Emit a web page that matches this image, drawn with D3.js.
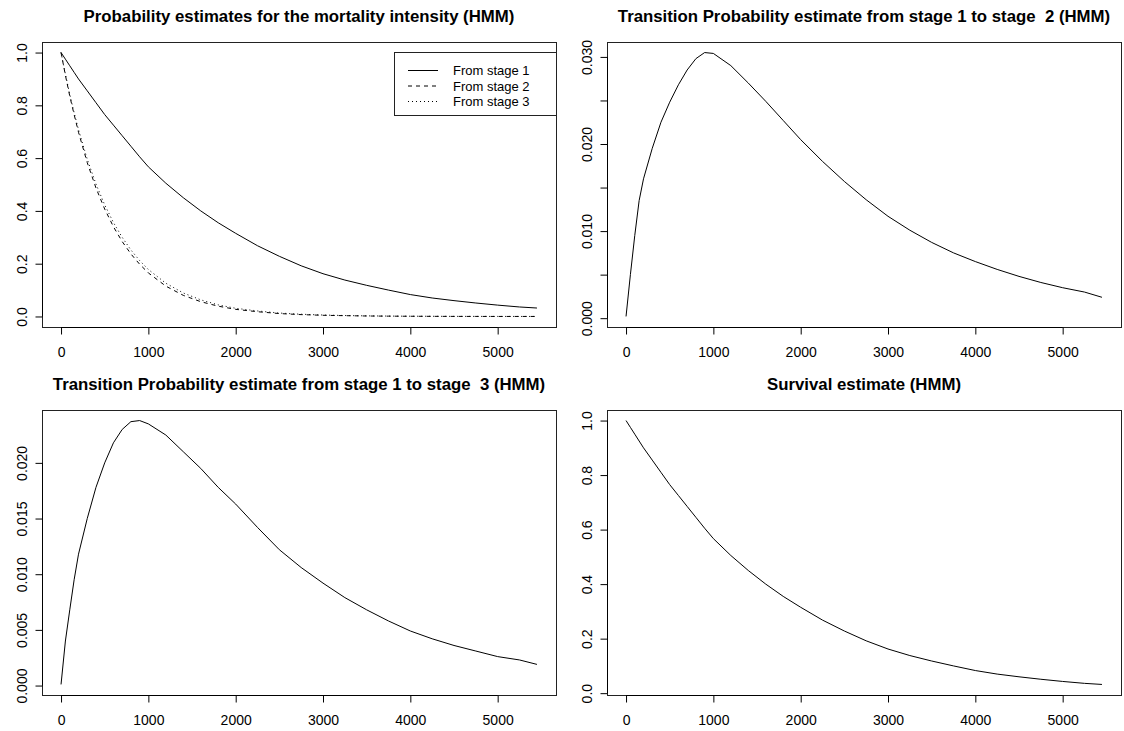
<!DOCTYPE html>
<html>
<head>
<meta charset="utf-8">
<script src="https://cdn.jsdelivr.net/npm/d3@7"></script>
<style>
  body { margin: 0; background: #fff; }
  text { font-family: "Liberation Sans", Arial, Helvetica, sans-serif; fill: #000; }
</style>
</head>
<body>
<div id="chart"></div>
<script>
// time points (days) shared by every curve
var days = [0, 50, 100, 150, 200, 300, 400, 500, 600, 700, 800, 900, 1000, 1200, 1400, 1600, 1800,
  2000, 2250, 2500, 2750, 3000, 3250, 3500, 3750, 4000, 4250, 4500, 4750, 5000, 5250, 5450];

// mortality intensity probabilities, by starting stage
var fromStage1 = [1.000, 0.975, 0.950, 0.925, 0.900, 0.855, 0.810, 0.765, 0.725, 0.685, 0.645, 0.605, 0.567,
  0.505, 0.450, 0.400, 0.355, 0.315, 0.268, 0.228, 0.192, 0.162, 0.138, 0.118, 0.100, 0.083, 0.070, 0.060,
  0.051, 0.043, 0.036, 0.032];
var fromStage2 = [1.000, 0.914, 0.835, 0.765, 0.698, 0.583, 0.487, 0.407, 0.340, 0.284, 0.237, 0.198, 0.165,
  0.115, 0.080, 0.056, 0.039, 0.027, 0.018, 0.011, 0.007, 0.0045, 0.003, 0.0018, 0.0012, 0.0008, 0.0005,
  0.0003, 0.0002, 0.0001, 0.0001, 0.0001];
var fromStage3 = [1.000, 0.918, 0.842, 0.772, 0.708, 0.596, 0.502, 0.423, 0.356, 0.300, 0.252, 0.212, 0.178,
  0.126, 0.089, 0.063, 0.044, 0.031, 0.021, 0.013, 0.0085, 0.0055, 0.0036, 0.0023, 0.0015, 0.001, 0.0007,
  0.0004, 0.0003, 0.0002, 0.0001, 0.0001];

// transition probabilities
var trans12 = [0.0002, 0.0050, 0.0095, 0.0135, 0.0160, 0.0195, 0.0225, 0.0248, 0.0268, 0.0285, 0.0298, 0.0305,
  0.0304, 0.0290, 0.0270, 0.0249, 0.0227, 0.0205, 0.0180, 0.0157, 0.0136, 0.0117, 0.0101, 0.0087, 0.0075,
  0.0065, 0.0056, 0.0048, 0.0041, 0.0035, 0.0030, 0.0024];
var trans13 = [0.0001, 0.0040, 0.0068, 0.0095, 0.0118, 0.0150, 0.0178, 0.0200, 0.0218, 0.0230, 0.0237, 0.0238,
  0.0235, 0.0225, 0.0210, 0.0195, 0.0178, 0.0163, 0.0142, 0.0122, 0.0106, 0.0092, 0.0079, 0.0068, 0.0058,
  0.0049, 0.0042, 0.0036, 0.0031, 0.0026, 0.0023, 0.0019];

// survival
var survival = [1.000, 0.975, 0.950, 0.925, 0.900, 0.855, 0.810, 0.765, 0.725, 0.685, 0.645, 0.605, 0.567,
  0.505, 0.450, 0.400, 0.355, 0.315, 0.268, 0.228, 0.192, 0.162, 0.138, 0.118, 0.100, 0.083, 0.070, 0.060,
  0.051, 0.043, 0.036, 0.032];

// ticks and labels
var xTicks = [0, 1000, 2000, 3000, 4000, 5000];
var probTicks = [0, 0.2, 0.4, 0.6, 0.8, 1.0];
var probLabels = ["0.0", "0.2", "0.4", "0.6", "0.8", "1.0"];
var trans12Ticks = [0, 0.005, 0.010, 0.015, 0.020, 0.025, 0.030];
var trans12Labels = ["0.000", "", "0.010", "", "0.020", "", "0.030"];
var trans13Ticks = [0, 0.005, 0.010, 0.015, 0.020];
var trans13Labels = ["0.000", "0.005", "0.010", "0.015", "0.020"];

var legendNames = ["From stage 1", "From stage 2", "From stage 3"];
var titles = [
  "Probability estimates for the mortality intensity (HMM)",
  "Transition Probability estimate from stage 1 to stage\u00a0 2 (HMM)",
  "Transition Probability estimate from stage 1 to stage\u00a0 3 (HMM)",
  "Survival estimate (HMM)"
];

var svgWidth = 1124;
var svgHeight = 731;

var svg = d3.select("#chart")
  .append("svg")
  .attr("width", svgWidth)
  .attr("height", svgHeight);

// R style range: data range padded by 4% on each side
function padded(values) {
  var lo = d3.min(values), hi = d3.max(values);
  var r = hi - lo;
  return [lo - 0.04 * r, hi + 0.04 * r];
}

var dashes = [null, "4,4", "1,3"];

function drawPanel(p) {
  var x = d3.scaleLinear().domain(padded(days)).range([p.left, p.right]);
  var allY = [].concat.apply([], p.series);
  var y = d3.scaleLinear().domain(padded(allY)).range([p.bottom, p.top]);

  var g = svg.append("g");

  // curves
  p.series.forEach(function(vals, i) {
    var line = d3.line()
      .x(function(d, j) { return x(days[j]); })
      .y(function(d) { return y(d); });
    g.append("path")
      .datum(vals)
      .attr("d", line)
      .attr("fill", "none")
      .attr("stroke", "#000")
      .attr("stroke-width", 1)
      .attr("stroke-dasharray", dashes[i]);
  });

  // box
  g.append("rect")
    .attr("x", p.left + 0.5)
    .attr("y", p.top + 0.5)
    .attr("width", p.right - p.left)
    .attr("height", p.bottom - p.top)
    .attr("fill", "none")
    .attr("stroke", "#222")
    .attr("stroke-width", 1);

  // x axis
  var xAxis = d3.axisBottom(x)
    .tickValues(xTicks)
    .tickSize(7)
    .tickPadding(13)
    .tickFormat(d3.format("d"));
  var xg = g.append("g")
    .attr("transform", "translate(0," + (p.bottom + 0.5) + ")")
    .call(xAxis);
  xg.select(".domain")
    .attr("d", "M" + x(xTicks[0]) + ",0H" + x(xTicks[xTicks.length - 1]))
    .attr("stroke", "#000");
  xg.selectAll("text").style("font-size", "14px").style("font-family", null);

  // y axis, labels rotated like R
  var yAxis = d3.axisLeft(y)
    .tickValues(p.yTicks)
    .tickSize(7)
    .tickFormat(function(d, i) { return p.yLabels[i]; });
  var yg = g.append("g")
    .attr("transform", "translate(" + (p.left + 0.5) + ",0)")
    .call(yAxis);
  yg.select(".domain")
    .attr("d", "M0," + y(p.yTicks[0]) + "V" + y(p.yTicks[p.yTicks.length - 1]))
    .attr("stroke", "#000");
  yg.selectAll("text")
    .attr("x", null)
    .attr("dy", null)
    .attr("text-anchor", "middle")
    .attr("transform", "translate(-16,0) rotate(-90)")
    .style("font-size", "14px")
    .style("font-family", null);

  // title
  svg.append("text")
    .attr("x", (p.left + p.right) / 2)
    .attr("y", p.titleY)
    .attr("text-anchor", "middle")
    .style("font-weight", "bold")
    .style("font-size", "16.8px")
    .text(p.title);

  if (p.legend) {
    var lg = svg.append("g");
    lg.append("rect")
      .attr("x", 394.5).attr("y", 52.5)
      .attr("width", 162).attr("height", 63)
      .attr("fill", "#fff").attr("stroke", "#222");
    legendNames.forEach(function(name, i) {
      var ly = 70.5 + i * 15.5;
      lg.append("line")
        .attr("x1", 408).attr("x2", 438)
        .attr("y1", ly).attr("y2", ly)
        .attr("stroke", "#000")
        .attr("stroke-dasharray", dashes[i]);
      lg.append("text")
        .attr("x", 453).attr("y", ly)
        .attr("dy", "0.35em")
        .style("font-size", "13px")
        .text(name);
    });
  }
}

var panels = [
  { left: 42, right: 556, top: 42, bottom: 327, titleY: 22, title: titles[0],
    series: [fromStage1, fromStage2, fromStage3], yTicks: probTicks, yLabels: probLabels, legend: true },
  { left: 607, right: 1121, top: 42, bottom: 327, titleY: 22, title: titles[1],
    series: [trans12], yTicks: trans12Ticks, yLabels: trans12Labels },
  { left: 42, right: 556, top: 410, bottom: 695, titleY: 390, title: titles[2],
    series: [trans13], yTicks: trans13Ticks, yLabels: trans13Labels },
  { left: 607, right: 1121, top: 410, bottom: 695, titleY: 390, title: titles[3],
    series: [survival], yTicks: probTicks, yLabels: probLabels }
];

panels.forEach(drawPanel);
</script>
</body>
</html>
